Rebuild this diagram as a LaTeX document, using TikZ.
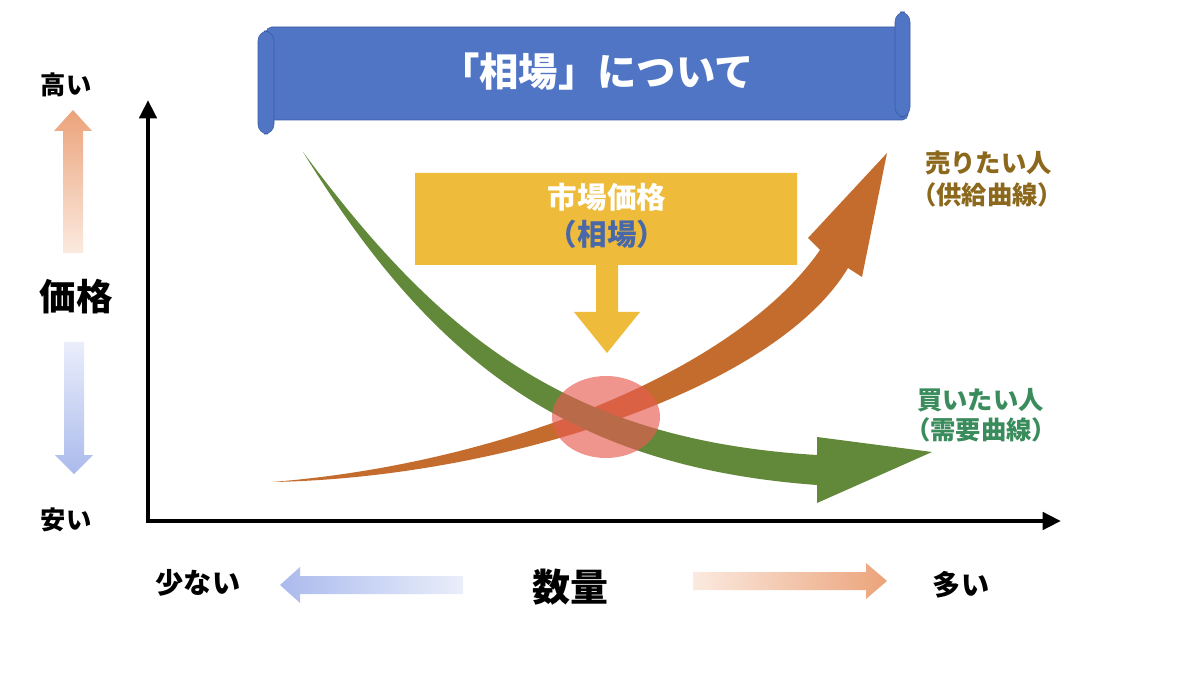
\documentclass[tikz,border=0pt]{standalone}
\usepackage{fontspec}
\setmainfont{Noto Sans CJK JP}
\usetikzlibrary{arrows.meta}

\definecolor{bannerblue}{RGB}{80,117,197}
\definecolor{bannerdark}{RGB}{60,92,165}
\definecolor{boxyellow}{RGB}{238,187,58}
\definecolor{demandgreen}{RGB}{98,137,58}
\definecolor{supplyorange}{RGB}{196,108,46}
\definecolor{eqred}{RGB}{232,92,82}
\definecolor{sellbrown}{RGB}{139,104,28}
\definecolor{buygreen}{RGB}{58,140,92}
\definecolor{parenblue}{RGB}{72,104,170}
\definecolor{upcol}{RGB}{235,163,122}
\definecolor{upfade}{RGB}{251,234,224}
\definecolor{downcol}{RGB}{170,186,236}
\definecolor{downfade}{RGB}{234,238,251}

\tikzset{
  txt/.style={inner sep=0pt, font=\bfseries\fontsize{#1}{#1}\selectfont},
  axis/.style={line width=3.5pt, line join=miter},
}

\begin{document}
\begin{tikzpicture}[x=0.025cm, y=-0.025cm]

    \useasboundingbox (0,0) rectangle (1200,674);

    \filldraw[bannerblue, draw=bannerdark, rounded corners=4] (266,27) rectangle (908,120);
    \filldraw[bannerblue, draw=bannerdark, rounded corners=7] (258,31) rectangle (274,134);
    \filldraw[bannerblue, draw=bannerdark, rounded corners=7] (895,12) rectangle (910,117);
    \node[txt=28, white] (title) at (597,72) {「相場」について};

    \coordinate (ytop) at (148,100);
    \coordinate (origin) at (148,521);
    \coordinate (xend) at (1061,521);
    \draw[axis, {Triangle[length=13pt, width=12pt]}-{Triangle[length=13pt, width=12pt]}] (ytop) -- (origin) -- (xend);

    \shade[top color=upcol, bottom color=upfade] (63,253) -- (63,131) -- (54,131) -- (73,110) -- (92,131) -- (83,131) -- (83,253) -- cycle;
    \shade[top color=downfade, bottom color=downcol] (64,342) -- (64,455) -- (55,455) -- (74,474) -- (93,455) -- (84,455) -- (84,342) -- cycle;
    \shade[left color=downcol, right color=downfade] (463,576) -- (300,576) -- (300,567) -- (280,585) -- (300,603) -- (300,594) -- (463,594) -- cycle;
    \shade[left color=upfade, right color=upcol] (693,572) -- (866,572) -- (866,563) -- (887,581) -- (866,599) -- (866,590) -- (693,590) -- cycle;

    \node[txt=18] (high) at (66,85) {高い};
    \node[txt=26] (price) at (76,297) {価格};
    \node[txt=18] (low) at (66,520) {安い};
    \node[txt=20] (few) at (198,583) {少ない};
    \node[txt=27] (qty) at (570,587) {数量};
    \node[txt=20] (many) at (961,585) {多い};

    \fill[boxyellow] (415,173) -- (797,173) -- (797,265) -- (618,265) -- (618,312) -- (640,312) -- (607,353) -- (574,312) -- (596,312) -- (596,265) -- (415,265) -- cycle;
    \node[txt=21, white] (market) at (607,197) {市場価格};
    \node[txt=21, parenblue] (soba) at (607,234) {（相場）};

    \fill[supplyorange] (272,482) .. controls (500,464) and (735,372) .. (820,250) -- (808,238) -- (887,153) -- (862,277) -- (848,268) .. controls (775,390) and (500,478) .. (272,482) -- cycle;
    \fill[demandgreen] (303,152) .. controls (438,334) and (566,440) .. (817,455) -- (817,437) -- (932,452) -- (817,503) -- (817,485) .. controls (556,466) and (424,348) .. (303,152) -- cycle;
    \fill[eqred, opacity=0.65] (606,417) ellipse [x radius=54, y radius=41];

    \node[txt=18, sellbrown, anchor=west] (sell) at (925,163) {売りたい人};
    \node[txt=18, sellbrown, anchor=west] (supply) at (911,195) {（供給曲線）};
    \node[txt=18, buygreen, anchor=west] (buy) at (917,400) {買いたい人};
    \node[txt=18, buygreen, anchor=west] (demand) at (905,430) {（需要曲線）};

\end{tikzpicture}
\end{document}
